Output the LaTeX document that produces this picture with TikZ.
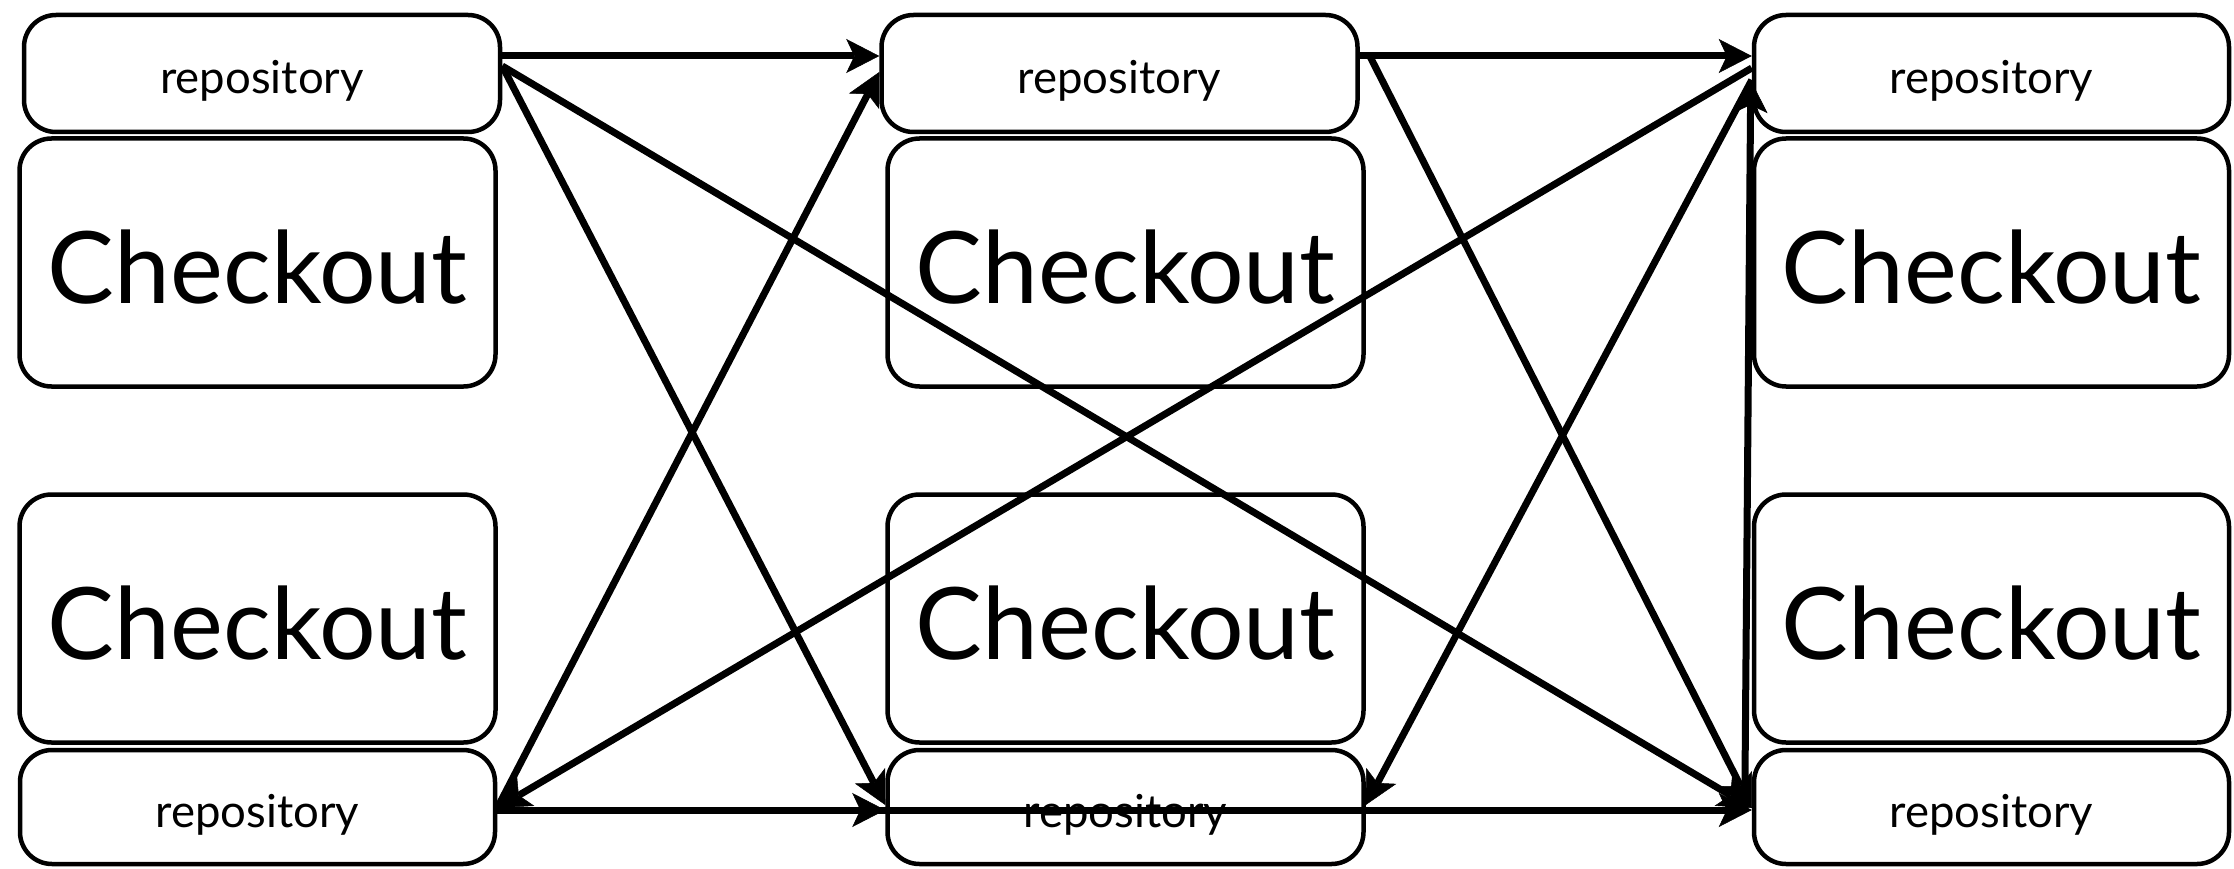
\documentclass[tikz,border=0pt]{standalone}
\usepackage{fontspec}
\setmainfont{Lato}
\usetikzlibrary{arrows.meta}
\begin{document}
\begin{tikzpicture}[x=1pt,y=-1pt,
  box/.style={draw=black, line width=4.5pt, rounded corners=32pt, fill=white, inner sep=0pt},
  repo/.style={box, minimum width=476pt, minimum height=116pt,
    font=\fontsize{45.5}{50}\selectfont, text height=41pt, text depth=0pt},
  co/.style={box, minimum width=476pt, minimum height=248pt,
    font=\fontsize{100}{102}\selectfont, text height=82pt, text depth=0pt},
  conn/.style={line width=7pt, -{Stealth[length=33pt,width=34pt,inset=8pt,line width=0.5pt]}}]
\useasboundingbox (0,0) rectangle (2234,869);
% left column
\node[repo, minimum height=117pt] (tl) at (262,73.5) {repository};
\node[co] (tlc) at (257.5,262.5) {Checkout};
\node[co] (blc) at (257.5,618.5) {Checkout};
\node[repo, minimum height=114pt, minimum width=475pt] (bl) at (257.5,807) {repository};
% middle column
\node[repo, minimum height=117pt] (tm) at (1119.5,73.5) {repository};
\node[co] (tmc) at (1125.5,262.5) {Checkout};
\node[co] (bmc) at (1125.5,618.5) {Checkout};
\node[repo, minimum height=114pt] (bm) at (1125.5,807) {repository};
% right column
\node[repo, minimum height=117pt, minimum width=475pt] (tr) at (1991.5,73.5) {repository};
\node[co, minimum width=475pt] (trc) at (1991.5,262.5) {Checkout};
\node[co, minimum width=475pt] (brc) at (1991.5,618.5) {Checkout};
\node[repo, minimum height=114pt, minimum width=475pt] (br) at (1991.5,807) {repository};
% connectors
\draw[conn] ([yshift=17.5pt]tl.east) -- ([yshift=17.5pt]tm.west);
\draw[conn] ([yshift=7.5pt]tl.east) -- ([yshift=2pt]bm.west);
\draw[conn] ([yshift=7.5pt]tl.east) -- ([yshift=-1pt]br.west);
\draw[conn] ([yshift=-1pt]bl.east) -- ([yshift=1.5pt]tm.west);
\draw[conn] ([yshift=5.5pt]tr.west) -- ([yshift=-1pt]bl.east);
\draw[conn] ([yshift=-3pt]bl.east) -- ([yshift=-3pt]bm.west);
\draw[conn] ([yshift=-3pt]bl.east) -- ([yshift=-3pt]br.west);
\draw[conn] ([yshift=17.5pt]tm.east) -- ([yshift=17.5pt]tr.west);
\draw[conn] ([xshift=10pt,yshift=17.5pt]tm.east) -- ([yshift=-1pt]br.west);
\draw[conn] ([yshift=-6.5pt]tr.west) -- ([yshift=2pt]bm.east);
\draw[conn] ([xshift=-7pt,yshift=-1pt]br.west) -- ([xshift=-1pt,yshift=-6.5pt]tr.west);
\end{tikzpicture}
\end{document}
